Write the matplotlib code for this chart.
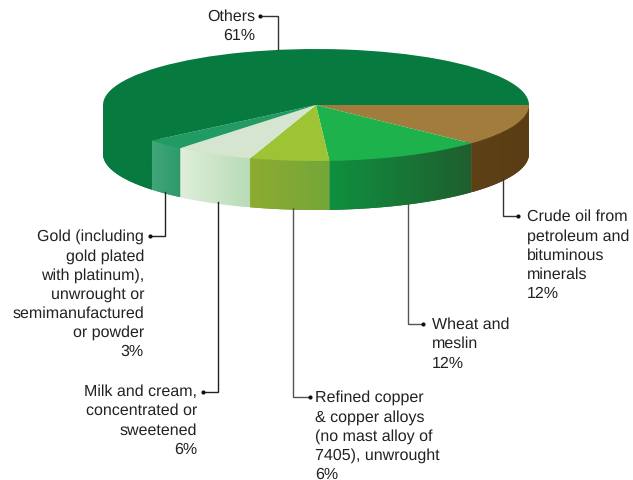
import numpy as np
import matplotlib
matplotlib.use("Agg")
import matplotlib.pyplot as plt
from matplotlib.colors import to_rgb
from matplotlib.patches import Polygon

plt.rcParams['font.family'] = ['Liberation Sans', 'DejaVu Sans']
plt.rcParams['text.hinting'] = 'none'
plt.rcParams['text.hinting_factor'] = 1

# Data (clockwise from 3 o'clock)
categories = ["Crude oil", "Wheat and meslin", "Refined copper", "Milk and cream", "Gold", "Others"]
values = [12, 12, 6, 6, 3, 61]

# Styling
top_colors = ['#a27c3c', '#1eb24c', '#9cc435', '#d6e5d0', '#229b63', '#077a3f']
side_right = ['#5a3d14', '#1f5f2f', '#74a73a', '#b8dcb6', '#2d9a6c', '#077a3f']
side_left = ['#5e4116', '#0f903f', '#8dab30', '#e0eeda', '#41a67a', '#077a3f']

W, H = 633, 481
CX, CY, RX, RY, DEPTH = 316.0, 106.0, 213.0, 56.0, 49.0

fig = plt.figure(figsize=(W / 100, H / 100), dpi=100, facecolor='white')
ax = fig.add_axes([0, 0, 1, 1])
ax.pie(values, colors=top_colors, startangle=0, counterclock=False, radius=1,
       wedgeprops=dict(linewidth=0))
for w in ax.patches:
    w.set_zorder(5)
ax.set_aspect('auto')
xlim = ((0 - CX) / RX, (W - CX) / RX)
ylim = ((CY - H) / RY, CY / RY)

# Extruded side: the same slices, front half only, with a horizontal gradient
edges = np.cumsum([0] + values) / sum(values) * 360.0
d = DEPTH / RY
for i in range(len(values)):
    a0, a1 = edges[i], min(edges[i + 1], 180.0)
    if a0 >= 180:
        continue
    t = np.radians(np.linspace(a0, a1, 80))
    x, y = np.cos(t), -np.sin(t)
    # upper edge tucked under the top face so no light seam shows
    verts = np.vstack([
        np.column_stack([x * 0.96, y * 0.96]),
        [[x[-1], y[-1]]],
        np.column_stack([x[::-1], y[::-1] - d]),
        [[x[0], y[0]]],
    ])
    cr, cl = np.array(to_rgb(side_right[i])), np.array(to_rgb(side_left[i]))
    base = Polygon(verts, closed=True, facecolor=(cr + cl) / 2, edgecolor='none', zorder=2)
    ax.add_patch(base)
    grad = np.linspace(cl, cr, 64)[np.newaxis, :, :]
    im = ax.imshow(grad, extent=(x.min(), x.max(), y.min() - d, y.max() + 0.02), aspect='auto',
                   zorder=3, interpolation='bilinear')
    im.set_clip_path(base)

ax.set_aspect('auto')
ax.set_xlim(*xlim)
ax.set_ylim(*ylim)
ax.axis('off')

# Overlay in pixel coordinates for annotations
ov = fig.add_axes([0, 0, 1, 1], facecolor='none')
ov.set_xlim(0, W)
ov.set_ylim(H, 0)
ov.axis('off')

LS = 19.2
FS = 11.3
labels = [
    (["Others", "61%"], 'right', 255, 17, [(260, 17), (278, 17), (278, 50)], '#333333'),
    (["Gold (including", "gold plated", "with platinum),", "unwrought or", "semimanufactured", "or powder", "3%"],
     'right', 144, 237, [(150, 237), (165, 237), (165, 193)], '#222222'),
    (["Milk and cream,", "concentrated or", "sweetened", "6%"], 'right', 197, 392,
     [(203, 393), (218, 393), (218, 203)], '#222222'),
    (["Refined copper", "& copper alloys", "(no mast alloy of", "7405), unwrought", "6%"], 'left', 315, 398,
     [(310, 398), (293, 398), (293, 209)], '#555555'),
    (["Wheat and", "meslin", "12%"], 'left', 432, 325,
     [(423, 325), (408, 325), (408, 205)], '#555555'),
    (["Crude oil from", "petroleum and", "bituminous", "minerals", "12%"], 'left', 527, 217,
     [(518, 217), (503, 217), (503, 180)], '#333333'),
]
for lines, ha, tx, ty, path, col in labels:
    for j, s in enumerate(lines):
        ov.text(tx, ty + j * LS, s, ha=ha, va='center', fontsize=FS, color='#222222')
    px, py = zip(*path)
    ov.plot(px, py, color=col, lw=1.0, solid_joinstyle='miter')
    ov.plot(px[0], py[0], 'o', ms=3, color='#111111', mew=0)

fig.savefig('out.png', dpi=100, facecolor='white')
